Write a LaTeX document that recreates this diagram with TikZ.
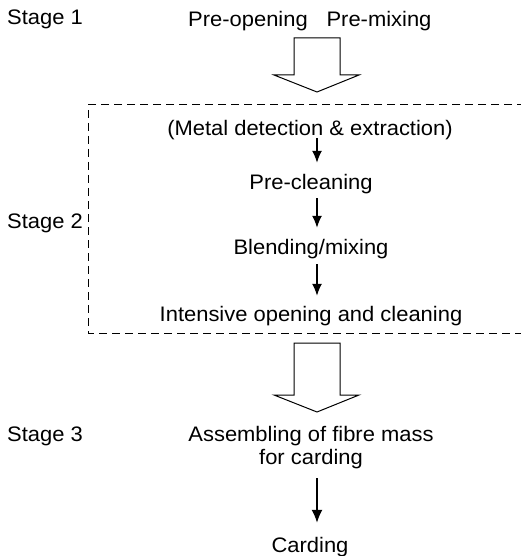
\documentclass[tikz,border=0pt]{standalone}
\usepackage{fontspec}
\setmainfont{Liberation Sans}[FakeStretch=1.045]
\usetikzlibrary{arrows.meta}
\begin{document}
\begin{tikzpicture}[x=1pt,y=-1pt,
  lbl/.style={font=\fontsize{21}{23}\selectfont, inner sep=0pt, text height=15pt, text depth=5pt},
  smallarrow/.style={line width=1.5pt, -{Latex[length=12pt,width=10pt]}},
  bigarrow/.style={draw, line width=1pt, fill=white, line join=miter},
  dashbox/.style={draw, line width=1pt, dash pattern=on 8pt off 5pt}]
\useasboundingbox (0,0) rectangle (520,556);
% stage labels
\node[lbl, anchor=base west] (s1) at (7,25) {Stage 1};
\node[lbl, anchor=base west] (s2) at (7,228) {Stage 2};
\node[lbl, anchor=base west] (s3) at (7,441) {Stage 3};
% stage 1
\node[lbl, anchor=base] (preopen) at (248,27) {Pre-opening};
\node[lbl, anchor=base] (premix) at (379,27) {Pre-mixing};
% big arrow 1
\draw[bigarrow] (294,38) -- (340,38) -- (340,75) -- (359,75) -- (317,92) -- (274,75) -- (294,75) -- cycle;
% dashed region
\draw[dashbox] (525,105) -- (88,105) -- (88,333) -- (525,333);
% stage 2
\node[lbl, anchor=base] (metal) at (310,136) {(Metal detection \& extraction)};
\node[lbl, anchor=base] (preclean) at (311,189) {Pre-cleaning};
\node[lbl, anchor=base] (blend) at (311,254) {Blending/mixing};
\node[lbl, anchor=base] (intens) at (311,321) {Intensive opening and cleaning};
\draw[smallarrow, shorten <=-3pt, shorten >=11pt] (metal.south -| 317,0) -- (preclean.north -| 317,0);
\draw[smallarrow, shorten <=4pt, shorten >=11pt] (preclean.south -| 317,0) -- (blend.north -| 317,0);
\draw[smallarrow, shorten <=5pt, shorten >=10pt] (blend.south -| 317,0) -- (intens.north -| 317,0);
% big arrow 2
\draw[bigarrow] (294,343) -- (340,343) -- (340,395) -- (359,395) -- (317,412) -- (274,395) -- (294,395) -- cycle;
% stage 3
\node[lbl, anchor=base] (assem) at (311,441) {Assembling of fibre mass};
\node[lbl, anchor=base] (forcard) at (311,464) {for carding};
\node[lbl, anchor=base] (card) at (310,552) {Carding};
\draw[smallarrow, -{Latex[length=13pt,width=11pt]}, shorten <=9pt, shorten >=14pt] (forcard.south -| 317,0) -- (card.north -| 317,0);
\end{tikzpicture}
\end{document}
